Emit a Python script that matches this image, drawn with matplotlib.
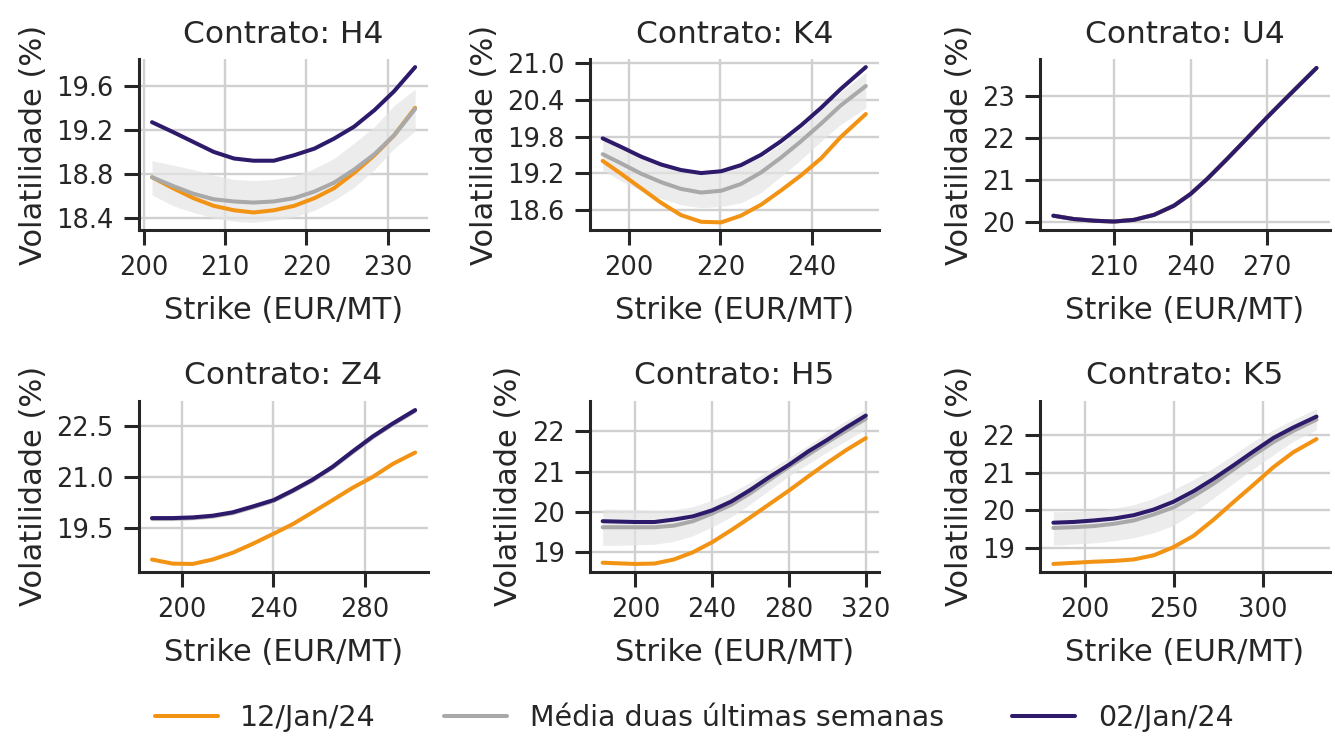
import matplotlib

matplotlib.use("Agg")
import matplotlib.pyplot as plt

# ---- data ----
contracts = ["H4", "K4", "U4", "Z4", "H5", "K5"]
series_labels = ["12/Jan/24", "Média duas últimas semanas", "02/Jan/24"]

h4_strike = [201.0, 203.6, 206.1, 208.6, 211.1, 213.5, 216.0, 218.5, 221.0, 223.4, 225.9, 228.4, 230.8, 233.4]
h4_jan12 = [18.77, 18.67, 18.58, 18.51, 18.47, 18.45, 18.47, 18.51, 18.58, 18.67, 18.81, 18.97, 19.15, 19.40]
h4_mean = [18.77, 18.69, 18.62, 18.57, 18.55, 18.54, 18.55, 18.58, 18.64, 18.72, 18.84, 18.98, 19.15, 19.39]
h4_jan02 = [19.27, 19.18, 19.09, 19.00, 18.94, 18.92, 18.92, 18.97, 19.03, 19.12, 19.23, 19.38, 19.55, 19.77]
h4_upper = [18.92, 18.88, 18.84, 18.79, 18.75, 18.74, 18.75, 18.78, 18.85, 18.94, 19.08, 19.23, 19.42, 19.57]
h4_lower = [18.61, 18.51, 18.45, 18.40, 18.37, 18.36, 18.38, 18.41, 18.47, 18.56, 18.68, 18.84, 19.03, 19.19]

k4_strike = [194.3, 198.3, 202.7, 207.1, 211.4, 215.8, 220.2, 224.5, 228.9, 233.2, 237.6, 242.0, 246.3, 251.8]
k4_jan12 = [19.40, 19.19, 18.95, 18.71, 18.51, 18.40, 18.39, 18.50, 18.68, 18.91, 19.16, 19.44, 19.79, 20.17]
k4_mean = [19.51, 19.36, 19.19, 19.05, 18.94, 18.88, 18.91, 19.02, 19.21, 19.45, 19.72, 20.01, 20.31, 20.63]
k4_jan02 = [19.77, 19.63, 19.47, 19.34, 19.25, 19.20, 19.23, 19.33, 19.50, 19.72, 19.98, 20.27, 20.58, 20.94]
k4_upper = [19.79, 19.64, 19.50, 19.37, 19.25, 19.19, 19.22, 19.31, 19.46, 19.67, 19.93, 20.24, 20.53, 20.85]
k4_lower = [19.25, 19.07, 18.91, 18.78, 18.68, 18.63, 18.65, 18.71, 18.88, 19.14, 19.42, 19.72, 20.00, 20.27]

u4_strike = [186.3, 194.3, 202.2, 210.0, 217.8, 225.7, 233.5, 240.0, 246.5, 254.3, 262.2, 270.0, 277.8, 289.3]
u4_jan12 = [20.14, 20.06, 20.02, 20.00, 20.04, 20.16, 20.38, 20.66, 21.02, 21.50, 22.00, 22.50, 22.98, 23.68]
u4_mean = [20.14, 20.06, 20.02, 20.00, 20.04, 20.16, 20.38, 20.66, 21.02, 21.50, 22.00, 22.50, 22.98, 23.68]
u4_jan02 = [20.14, 20.06, 20.02, 20.00, 20.04, 20.16, 20.38, 20.66, 21.02, 21.50, 22.00, 22.50, 22.98, 23.68]
u4_upper = [20.16, 20.08, 20.04, 20.02, 20.06, 20.18, 20.40, 20.68, 21.04, 21.52, 22.02, 22.52, 23.00, 23.70]
u4_lower = [20.12, 20.04, 20.00, 19.98, 20.02, 20.14, 20.36, 20.64, 21.00, 21.48, 21.98, 22.48, 22.96, 23.66]

z4_strike = [186.9, 195.9, 204.7, 213.4, 222.2, 230.9, 240.1, 248.4, 257.1, 265.9, 274.6, 283.4, 292.1, 302.0]
z4_jan12 = [18.58, 18.46, 18.45, 18.58, 18.78, 19.04, 19.34, 19.62, 19.97, 20.33, 20.69, 21.01, 21.39, 21.73]
z4_mean = [19.78, 19.78, 19.80, 19.85, 19.95, 20.12, 20.31, 20.59, 20.91, 21.29, 21.74, 22.18, 22.56, 22.96]
z4_jan02 = [19.80, 19.80, 19.82, 19.87, 19.97, 20.14, 20.33, 20.61, 20.93, 21.31, 21.76, 22.20, 22.58, 22.98]
z4_upper = [19.84, 19.84, 19.86, 19.91, 20.01, 20.18, 20.37, 20.65, 20.97, 21.35, 21.80, 22.24, 22.62, 23.02]
z4_lower = [19.72, 19.72, 19.74, 19.79, 19.89, 20.06, 20.25, 20.53, 20.85, 21.23, 21.68, 22.12, 22.50, 22.90]

h5_strike = [183, 200, 210, 220, 230, 240, 250, 260, 270, 280, 290, 300, 310, 320]
h5_jan12 = [18.74, 18.71, 18.72, 18.82, 19.00, 19.25, 19.55, 19.87, 20.20, 20.53, 20.88, 21.22, 21.54, 21.83]
h5_mean = [19.62, 19.62, 19.62, 19.66, 19.77, 19.96, 20.18, 20.47, 20.80, 21.12, 21.42, 21.73, 22.02, 22.31]
h5_jan02 = [19.77, 19.75, 19.75, 19.81, 19.89, 20.04, 20.26, 20.55, 20.87, 21.17, 21.50, 21.79, 22.10, 22.39]
h5_upper = [20.07, 20.06, 20.04, 20.05, 20.13, 20.29, 20.48, 20.74, 21.05, 21.35, 21.65, 21.97, 22.27, 22.56]
h5_lower = [19.17, 19.18, 19.20, 19.27, 19.41, 19.63, 19.88, 20.20, 20.55, 20.89, 21.19, 21.49, 21.77, 22.06]

k5_strike = [182.5, 194.0, 205.2, 216.4, 227.6, 238.8, 250.0, 261.2, 272.4, 283.6, 294.8, 306.0, 317.2, 330.2]
k5_jan12 = [18.57, 18.60, 18.63, 18.65, 18.69, 18.80, 19.02, 19.32, 19.75, 20.22, 20.68, 21.15, 21.55, 21.90]
k5_mean = [19.53, 19.55, 19.58, 19.64, 19.73, 19.89, 20.08, 20.38, 20.71, 21.09, 21.47, 21.82, 22.12, 22.42]
k5_jan02 = [19.67, 19.69, 19.73, 19.78, 19.87, 20.02, 20.23, 20.51, 20.84, 21.20, 21.57, 21.93, 22.21, 22.50]
k5_upper = [19.96, 19.97, 19.98, 20.05, 20.15, 20.32, 20.55, 20.82, 21.13, 21.48, 21.84, 22.15, 22.42, 22.71]
k5_lower = [19.07, 19.10, 19.13, 19.19, 19.27, 19.40, 19.60, 19.93, 20.33, 20.72, 21.11, 21.48, 21.84, 22.15]

x_ticks = [[200, 210, 220, 230], [200, 220, 240], [210, 240, 270],
           [200, 240, 280], [200, 240, 280, 320], [200, 250, 300]]
y_ticks = [[18.4, 18.8, 19.2, 19.6], [18.6, 19.2, 19.8, 20.4, 21.0], [20, 21, 22, 23],
           [19.5, 21.0, 22.5], [19, 20, 21, 22], [19, 20, 21, 22]]
y_tick_labels = [["18.4", "18.8", "19.2", "19.6"], ["18.6", "19.2", "19.8", "20.4", "21.0"],
                 ["20", "21", "22", "23"], ["19.5", "21.0", "22.5"],
                 ["19", "20", "21", "22"], ["19", "20", "21", "22"]]

panels = [
    (h4_strike, h4_jan12, h4_mean, h4_jan02, h4_lower, h4_upper),
    (k4_strike, k4_jan12, k4_mean, k4_jan02, k4_lower, k4_upper),
    (u4_strike, u4_jan12, u4_mean, u4_jan02, u4_lower, u4_upper),
    (z4_strike, z4_jan12, z4_mean, z4_jan02, z4_lower, z4_upper),
    (h5_strike, h5_jan12, h5_mean, h5_jan02, h5_lower, h5_upper),
    (k5_strike, k5_jan12, k5_mean, k5_jan02, k5_lower, k5_upper),
]

ORANGE = "#f39314"
GRAY = "#a9a9a9"
PURPLE = "#2d1a6b"
TEXT = "#262626"

plt.rcParams["font.family"] = ["DejaVu Sans"]
plt.rcParams["text.color"] = TEXT
plt.rcParams["axes.labelcolor"] = TEXT
plt.rcParams["xtick.color"] = TEXT
plt.rcParams["ytick.color"] = TEXT

fig, axes = plt.subplots(2, 3, figsize=(13.35, 7.42), dpi=100)
fig.subplots_adjust(left=0.104, right=0.996, top=0.920, bottom=0.2295, wspace=0.557, hspace=1.0)

for i, ax in enumerate(axes.flat):
    strike, jan12, mean, jan02, lower, upper = panels[i]
    ax.fill_between(strike, lower, upper, color="#e4e4e4", alpha=0.7, lw=0, zorder=1)
    ax.plot(strike, jan12, color=ORANGE, lw=2.9, label=series_labels[0], zorder=3,
            solid_capstyle="round", solid_joinstyle="round")
    ax.plot(strike, mean, color=GRAY, lw=2.9, label=series_labels[1], zorder=3,
            solid_capstyle="round", solid_joinstyle="round")
    ax.plot(strike, jan02, color=PURPLE, lw=2.9, label=series_labels[2], zorder=4,
            solid_capstyle="round", solid_joinstyle="round")
    ax.set_xticks(x_ticks[i])
    ax.set_yticks(y_ticks[i])
    ax.set_yticklabels(y_tick_labels[i])
    ax.grid(True, color="#d0d0d0", lw=1.7)
    ax.set_axisbelow(True)
    for side in ["top", "right"]:
        ax.spines[side].set_visible(False)
    for side in ["left", "bottom"]:
        ax.spines[side].set_linewidth(2.2)
        ax.spines[side].set_color(TEXT)
    ax.tick_params(labelsize=18.5, width=2.2, length=11, pad=7)
    ax.set_title(f"Contrato: {contracts[i]}", fontsize=22.5, pad=12)
    ax.set_xlabel("Strike (EUR/MT)", fontsize=22, labelpad=11)
    ax.set_ylabel("Volatilidade (%)", fontsize=22, labelpad=6)

handles, labels = axes.flat[0].get_legend_handles_labels()
fig.legend(handles, labels, loc="center", bbox_to_anchor=(0.52, 0.032), ncol=3, frameon=False,
           fontsize=20.5, handlelength=2.2, handletextpad=0.8, columnspacing=2.4)

fig.savefig("out.png", dpi=100)
plt.close(fig)
